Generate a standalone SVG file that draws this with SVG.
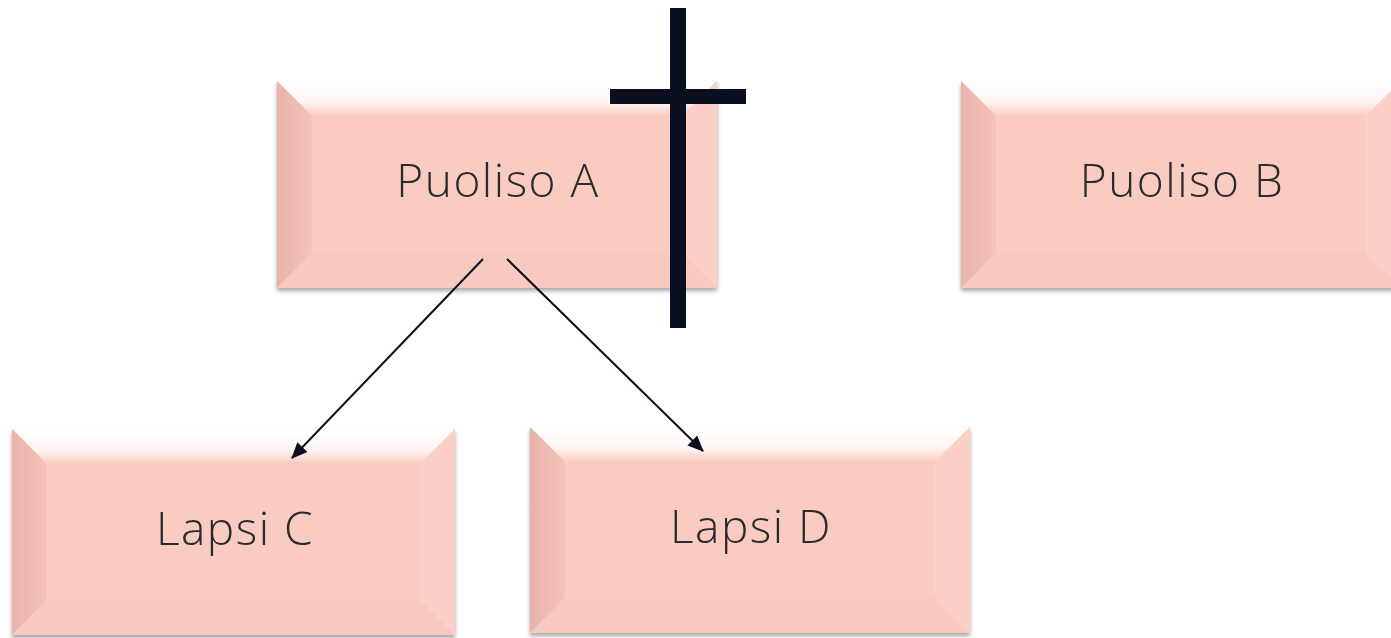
<svg xmlns="http://www.w3.org/2000/svg" width="1391" height="638" viewBox="0 0 1391 638">
<style>
.face{fill:#f9cbc1}
.top{fill:url(#gTop)}
.left{fill:url(#gLeft)}
.right{fill:#fcd0c6}
.bot{fill:#f8c9bf}
.lbl{font-family:"Open Sans","Liberation Sans",sans-serif;font-weight:300;font-size:46px;letter-spacing:1.5px;fill:#2b2b2b;text-anchor:middle}
</style>
<defs>
<linearGradient id="gTop" x1="0" y1="0" x2="0" y2="1"><stop offset="0" stop-color="#fff"/><stop offset="0.6" stop-color="#fff5f2"/><stop offset="1" stop-color="#f9cbc1"/></linearGradient>
<linearGradient id="gLeft" x1="0" y1="0" x2="1" y2="0"><stop offset="0" stop-color="#e8b3aa"/><stop offset="1" stop-color="#f5c3b9"/></linearGradient>
<filter id="sh" x="-5%" y="-5%" width="110%" height="115%"><feDropShadow dx="0" dy="3" stdDeviation="2" flood-color="#000" flood-opacity="0.35"/></filter>
<marker id="ah2" markerWidth="16" markerHeight="14" refX="15" refY="7" orient="auto" markerUnits="userSpaceOnUse" viewBox="0 0 16 14"><path d="M0,0 L16,7 L0,14 z" fill="#0a1020"/></marker>
</defs>
<rect width="1391" height="638" fill="#fff"/>

<g id="puolisoA" filter="url(#sh)">
<rect class="face" x="277" y="81" width="440" height="207"/>
<path class="top" d="M277,81 H717 L682,116 H312 Z"/>
<path class="left" d="M277,81 L312,116 V253 L277,288 Z"/>
<path class="right" d="M717,81 L682,116 V253 L717,288 Z"/>
<path class="bot" d="M277,288 L312,253 H682 L717,288 Z"/>
<text class="lbl" x="498" y="197">Puoliso A</text>
</g>

<g id="puolisoB" filter="url(#sh)">
<rect class="face" x="961" y="81" width="440" height="207"/>
<path class="top" d="M961,81 H1401 L1366,116 H996 Z"/>
<path class="left" d="M961,81 L996,116 V253 L961,288 Z"/>
<path class="right" d="M1401,81 L1366,116 V253 L1401,288 Z"/>
<path class="bot" d="M961,288 L996,253 H1366 L1401,288 Z"/>
<text class="lbl" x="1182" y="197">Puoliso B</text>
</g>

<g id="lapsiC" filter="url(#sh)">
<rect class="face" x="12" y="429" width="443" height="206"/>
<path class="top" d="M12,429 H455 L420,464 H47 Z"/>
<path class="left" d="M12,429 L47,464 V600 L12,635 Z"/>
<path class="right" d="M455,429 L420,464 V600 L455,635 Z"/>
<path class="bot" d="M12,635 L47,600 H420 L455,635 Z"/>
<text class="lbl" x="235" y="545">Lapsi C</text>
</g>

<g id="lapsiD" filter="url(#sh)">
<rect class="face" x="530" y="427" width="440" height="206"/>
<path class="top" d="M530,427 H970 L935,462 H565 Z"/>
<path class="left" d="M530,427 L565,462 V598 L530,633 Z"/>
<path class="right" d="M970,427 L935,462 V598 L970,633 Z"/>
<path class="bot" d="M530,633 L565,598 H935 L970,633 Z"/>
<text class="lbl" x="751" y="543">Lapsi D</text>
</g>

<g id="cross">
<rect x="670" y="8" width="16" height="320" fill="#0a1020"/>
<rect x="610" y="89" width="136" height="15" fill="#0a1020"/>
</g>

<g id="connectors">
<line x1="483" y1="259" x2="292" y2="458" stroke="#0a1020" stroke-width="2" marker-end="url(#ah2)"/>
<line x1="507" y1="259" x2="703" y2="451" stroke="#0a1020" stroke-width="2" marker-end="url(#ah2)"/>
</g>
</svg>
